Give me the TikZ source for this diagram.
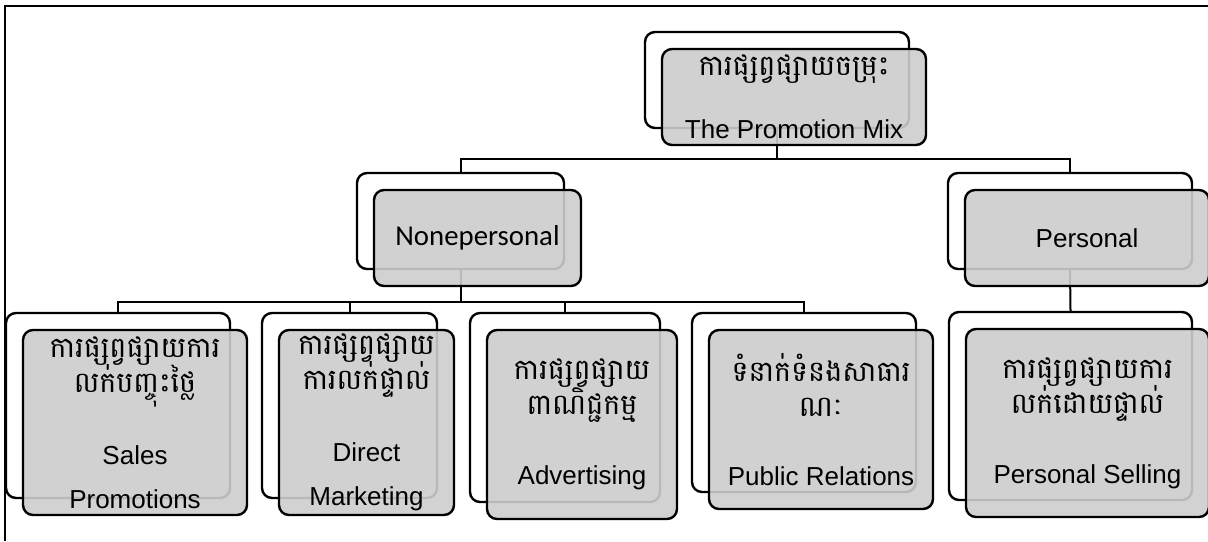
\documentclass[tikz,border=0pt]{standalone}
\usepackage{fontspec}
\setmainfont{Liberation Sans}
\newfontfamily\khmer[Script=Khmer,Scale=1.1]{Battambang}
\newfontfamily\calibri{Carlito}
\definecolor{boxgray}{RGB}{205,205,205}
\setlength\lineskiplimit{-20pt}
\tikzset{
  back/.style={draw, line width=1.2pt, rounded corners=5pt, fill=white, inner sep=0pt},
  front/.style={draw, line width=1.2pt, rounded corners=5pt, fill=boxgray, fill opacity=0.9,
    text opacity=1, inner sep=0pt, align=center,
    font=\fontsize{13}{17.5}\selectfont},
  link/.style={line width=1pt},
}
\begin{document}
\begin{tikzpicture}[x=0.5pt,y=-0.5pt]
        \useasboundingbox (0,0) rectangle (1208,541);
        % Frame
        \draw[line width=0.8pt] (5,541) -- (5,6) -- (1208,6);

        % Back boxes
        \node[back, minimum width=132pt, minimum height=48pt] (mix) at (777,80) {};
        \node[back, minimum width=103.5pt, minimum height=48pt] (nonpers) at (460.5,221) {};
        \node[back, minimum width=122pt, minimum height=48pt] (pers) at (1070,221) {};
        \node[back, minimum width=112pt, minimum height=92.5pt] (sales) at (118,405.5) {};
        \node[back, minimum width=87.5pt, minimum height=92.5pt] (direct) at (349.5,405.5) {};
        \node[back, minimum width=95pt, minimum height=94.5pt] (advert) at (565,407.5) {};
        \node[back, minimum width=112pt, minimum height=89.5pt] (pubrel) at (804,402.5) {};
        \node[back, minimum width=121.5pt, minimum height=94pt] (selling) at (1070.5,406) {};

        % Connectors
        \draw[link] (mix.south) -- ++(0,30) -| (nonpers.north);
        \draw[link] (mix.south) -- ++(0,30) -| (pers.north);
        \draw[link] (nonpers.south) -- ++(0,32) -| (sales.north);
        \draw[link] (nonpers.south) -- ++(0,32) -| (direct.north);
        \draw[link] (nonpers.south) -- ++(0,32) -| (advert.north);
        \draw[link] (nonpers.south) -- ++(0,32) -| (pubrel.north);
        \draw[link] (pers.south) -- (selling.north);

        % Front boxes with the labels
        \node[front, minimum width=132pt, minimum height=48pt] (mix-f) at ([shift={(17,17)}]mix.center)
          {{\khmer ការផ្សព្វផ្សាយចម្រុះ}\\[14pt]The Promotion Mix};
        \node[front, minimum width=103.5pt, minimum height=48pt, font=\calibri\fontsize{14.4}{17}\selectfont] (nonpers-f) at ([shift={(17,17)}]nonpers.center)
          {Nonepersonal};
        \node[front, minimum width=122pt, minimum height=48pt] (pers-f) at ([shift={(17,17)}]pers.center)
          {Personal};
        \node[front, minimum width=112pt, minimum height=92.5pt] (sales-f) at ([shift={(17,17)}]sales.center)
          {{\khmer ការផ្សព្វផ្សាយការ}\\{\khmer លក់បញ្ចុះថ្លៃ}\\[18.5pt]Sales\\[4.5pt]Promotions};
        \node[front, minimum width=87.5pt, minimum height=92.5pt] (direct-f) at ([shift={(17,17)}]direct.center)
          {{\khmer ការផ្សព្វផ្សាយ}\\{\khmer ការលក់ផ្ទាល់}\\[18.5pt]Direct\\[4.5pt]Marketing};
        \node[front, minimum width=95pt, minimum height=94.5pt] (advert-f) at ([shift={(17,17)}]advert.center)
          {{\khmer ការផ្សព្វផ្សាយ}\\{\khmer ពាណិជ្ជកម្ម}\\[17.5pt]Advertising};
        \node[front, minimum width=112pt, minimum height=89.5pt] (pubrel-f) at ([shift={(17,17)}]pubrel.center)
          {{\khmer ទំនាក់ទំនងសាធារ}\\{\khmer ណៈ}\\[17pt]Public Relations};
        \node[front, minimum width=121.5pt, minimum height=94pt] (selling-f) at ([shift={(17,17)}]selling.center)
          {{\khmer ការផ្សព្វផ្សាយការ}\\{\khmer លក់ដោយផ្ទាល់}\\[17.5pt]Personal Selling};
\end{tikzpicture}
\end{document}
